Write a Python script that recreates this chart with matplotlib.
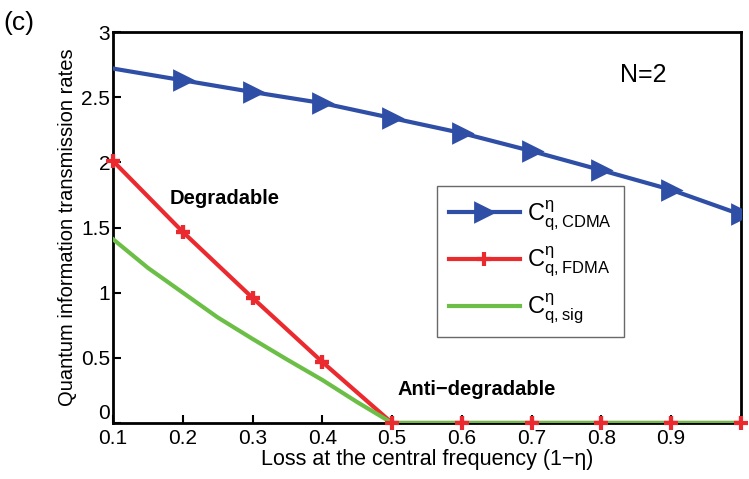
import matplotlib.pyplot as plt
import numpy as np

plt.rcParams['font.family'] = ['Liberation Sans', 'DejaVu Sans']
plt.rcParams['mathtext.default'] = 'regular'

loss = [0.1, 0.2, 0.3, 0.4, 0.5, 0.6, 0.7, 0.8, 0.9, 1.0]
cdma = [2.72, 2.63, 2.54, 2.455, 2.34, 2.225, 2.087, 1.94, 1.79, 1.60]
fdma = [2.01, 1.466, 0.96, 0.468, 0.0, 0.0, 0.0, 0.0, 0.0, 0.0]

loss_sig = [0.1, 0.15, 0.2, 0.25, 0.3, 0.35, 0.4, 0.45, 0.5, 0.6, 0.7, 0.8, 0.9, 1.0]
sig = [1.41, 1.19, 1.0, 0.81, 0.645, 0.485, 0.33, 0.16, 0.0, 0.0, 0.0, 0.0, 0.0, 0.0]

blue = "#2f4fa6"
red = "#ea2a2e"
green = "#6cbf46"

fig = plt.figure(figsize=(7.49, 4.79), dpi=100)
ax = fig.add_axes([0.151, 0.117, 0.838, 0.816])

ax.plot(loss, cdma, color=blue, lw=3, marker=">", ms=13, mew=2,
        markevery=range(1, 10), label=r"$C^{\eta}_{q,CDMA}$", zorder=3)
ax.plot(loss, fdma, color=red, lw=3, marker="+", ms=10, mew=3,
        label=r"$C^{\eta}_{q,FDMA}$", zorder=2)
ax.plot(loss_sig, sig, color=green, lw=3, label=r"$C^{\eta}_{q,sig}$", zorder=3)
# red markers drawn above the green line on the zero segment
ax.plot(loss, fdma, color=red, lw=0, marker="+", ms=10, mew=3, zorder=4, clip_on=False)

ax.set_xlim(0.1, 1.0)
ax.set_ylim(0, 3)
ax.set_xticks([0.1, 0.2, 0.3, 0.4, 0.5, 0.6, 0.7, 0.8, 0.9, 1.0])
ax.set_xticklabels(["0.1", "0.2", "0.3", "0.4", "0.5", "0.6", "0.7", "0.8", "0.9", ""])
ax.set_yticks([0, 0.5, 1, 1.5, 2, 2.5, 3])
ax.set_yticklabels(["0", "0.5", "1", "1.5", "2", "2.5", "3"])
ax.tick_params(direction="in", length=6, width=1.5, labelsize=15, pad=2)
ax.tick_params(axis="x", pad=4)
for s in ax.spines.values():
    s.set_linewidth(2)
# lift the "0" label a little so it sits just above "0.1"
ax.get_yticklabels()[0].set_va("bottom")

ax.set_xlabel("Loss at the central frequency (1\u2212\u03b7)", fontsize=15.5, labelpad=1)
ax.set_ylabel("Quantum information transmission rates", fontsize=14.5, labelpad=3)

ax.text(0.26, 1.72, "Degradable", fontsize=14.5, fontweight="bold", ha="center", va="center")
ax.text(0.622, 0.26, "Anti\u2212degradable", fontsize=14.5, fontweight="bold", ha="center", va="center")
ax.text(0.86, 2.67, "N=2", fontsize=18, ha="center", va="center")
fig.text(0.005, 0.952, "(c)", fontsize=19, ha="left", va="center")

leg = ax.legend(loc="upper left", bbox_to_anchor=(0.505, 0.625), fontsize=17,
                fancybox=False, edgecolor="#444444", handlelength=3.0,
                handletextpad=0.3, labelspacing=0.55, borderpad=0.5,
                borderaxespad=0.3)
leg.get_frame().set_linewidth(1)

fig.savefig("out.png", dpi=100)
